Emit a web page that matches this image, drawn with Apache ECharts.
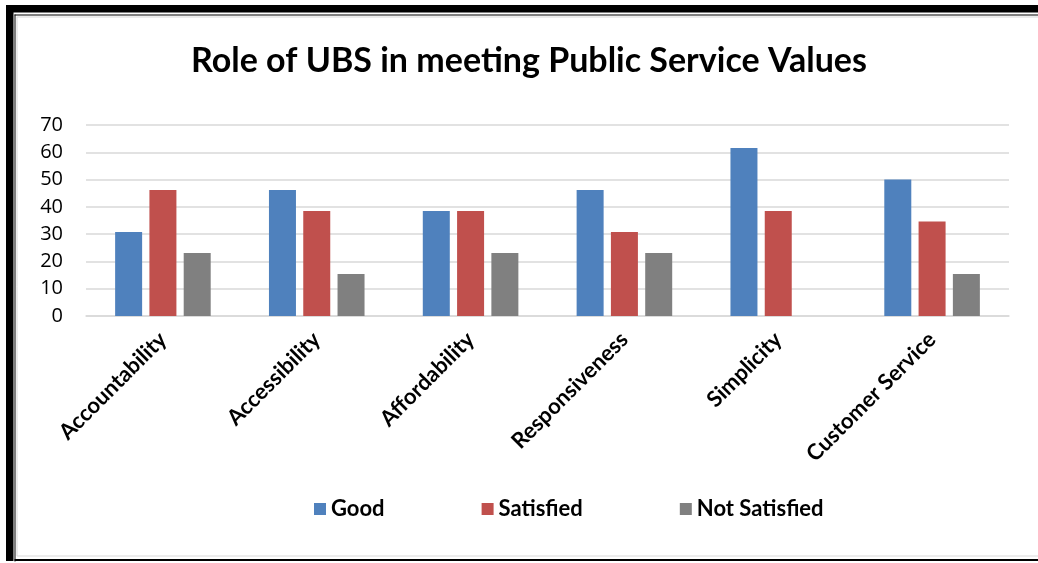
<!DOCTYPE html>
<html>
<head>
<meta charset="utf-8">
<title>Role of UBS in meeting Public Service Values</title>
<script src="https://cdn.jsdelivr.net/npm/echarts@6/dist/echarts.min.js"></script>
<style>
    html, body { margin: 0; padding: 0; background: #fff; }
    #chart { width: 1038px; height: 563px; }
</style>
</head>
<body>
<div id="chart"></div>
<script>
// categories and percentages
var categories = ['Accountability', 'Accessibility', 'Affordability', 'Responsiveness', 'Simplicity', 'Customer Service'];
var goodData = [30.77, 46.15, 38.46, 46.15, 61.54, 50];
var satisfiedData = [46.15, 38.46, 38.46, 30.77, 38.46, 34.62];
var notSatisfiedData = [23.08, 15.38, 23.08, 23.08, 0, 15.38];
var seriesNames = ['Good', 'Satisfied', 'Not Satisfied'];
var seriesColors = ['#4F81BD', '#C0504D', '#808080'];

var myChart = echarts.init(document.getElementById('chart'));

/**
 * 单个柱状系列
 */
function makeBar(index, values) {
    return {
        name: seriesNames[index],
        type: 'bar',
        data: values,
        barWidth: 27,
        barGap: '27%',
        itemStyle: {
            color: seriesColors[index]
        }
    };
}

var option = {
    backgroundColor: '#fff',
    animation: false,
    title: {
        text: 'Role of UBS in meeting Public Service Values',
        left: 186,
        top: 39,
        textStyle: {
            fontFamily: 'Lato',
            fontWeight: 'bold',
            fontSize: 34,
            color: '#000'
        }
    },
    legend: {
        left: 309,
        top: 493,
        itemWidth: 12,
        itemHeight: 12,
        itemGap: 97,
        icon: 'rect',
        data: seriesNames,
        textStyle: {
            fontFamily: 'Lato',
            fontWeight: 'bold',
            fontSize: 22,
            color: '#000'
        }
    },
    grid: {
        left: 86,
        right: 29,
        top: 125,
        bottom: 247,
        containLabel: false
    },
    xAxis: {
        type: 'category',
        data: categories,
        axisLine: { lineStyle: { color: '#D9D9D9', width: 1.5 } },
        axisTick: { show: false },
        axisLabel: {
            rotate: 45,
            margin: 20,
            interval: 0,
            fontFamily: 'Lato',
            fontWeight: 'bold',
            fontSize: 22,
            color: '#000'
        }
    },
    yAxis: {
        type: 'value',
        min: 0,
        max: 70,
        interval: 10,
        axisLine: { show: false },
        axisTick: { show: false },
        splitLine: { lineStyle: { color: '#D9D9D9', width: 1.5 } },
        axisLabel: {
            margin: 23,
            fontFamily: 'Open Sans',
            fontSize: 20,
            color: '#000'
        }
    },
    series: [
        makeBar(0, goodData),
        makeBar(1, satisfiedData),
        makeBar(2, notSatisfiedData)
    ],
    // 外框：粗细双线
    graphic: [
        { type: 'rect', shape: { x: 6, y: 5, width: 1032, height: 7.5 }, style: { fill: '#000' } },
        { type: 'rect', shape: { x: 6, y: 5, width: 7.5, height: 556 }, style: { fill: '#000' } },
        { type: 'rect', shape: { x: 14.5, y: 14.5, width: 1023.5, height: 1 }, style: { fill: '#000' } },
        { type: 'rect', shape: { x: 14.5, y: 14.5, width: 1, height: 547 }, style: { fill: '#000' } },
        { type: 'rect', shape: { x: 14.5, y: 559, width: 1023.5, height: 2 }, style: { fill: '#000' } },
        { type: 'rect', shape: { x: 17, y: 17, width: 1030, height: 539 }, style: { fill: 'none', stroke: '#D9D9D9', lineWidth: 1 } }
    ]
};

myChart.setOption(option);
</script>
</body>
</html>
